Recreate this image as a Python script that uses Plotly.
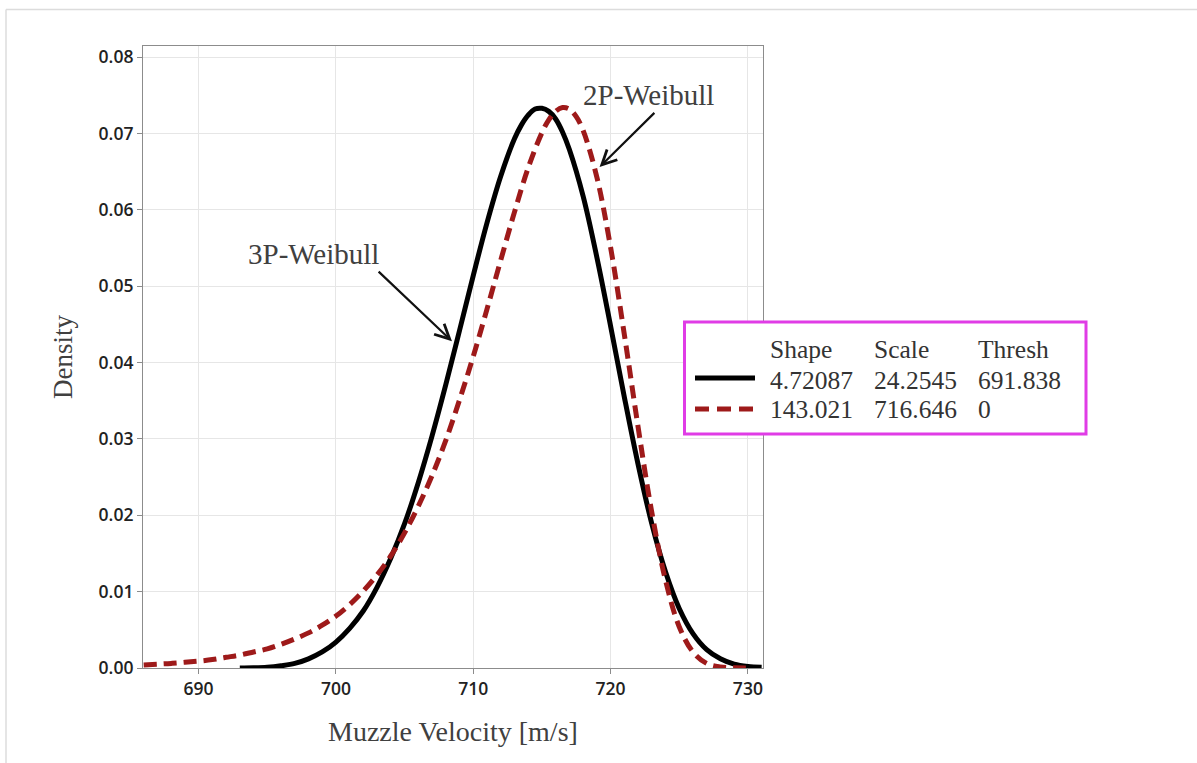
import plotly.graph_objects as go

# ---- data ----
x_3p = [693, 694, 695, 696, 697, 698, 699, 700, 701, 702, 703, 704, 705, 706, 707, 708,
        709, 710, 711, 712, 713, 713.5, 714, 714.5, 715, 715.5, 716, 716.5, 717, 718,
        719, 720, 721, 722, 723, 724, 725, 726, 727, 728, 729, 730, 731]
d_3p = [0.0000, 0.00002, 0.0001, 0.0003, 0.0006, 0.0012, 0.0021, 0.0034, 0.0052, 0.0075,
        0.0106, 0.0144, 0.0189, 0.0243, 0.0304, 0.0371, 0.0442, 0.0514, 0.0583, 0.0644,
        0.0693, 0.0711, 0.0724, 0.0732, 0.0733, 0.0729, 0.0719, 0.0702, 0.0679, 0.0618,
        0.0538, 0.0448, 0.0355, 0.0267, 0.0189, 0.0126, 0.0078, 0.0045, 0.0024, 0.0012,
        0.0005, 0.0002, 0.0001]

x_2p = [686, 687, 688, 689, 690, 691, 692, 693, 694, 695, 696, 697, 698, 699, 700,
        701, 702, 703, 704, 705, 706, 707, 708, 709, 710, 711, 712, 713, 714, 715, 715.5,
        716, 716.5, 717, 717.5, 718, 719, 720, 721, 722, 723, 724, 725, 726, 727, 728, 729, 730]
d_2p = [0.0004, 0.0005, 0.0006, 0.00075, 0.0009, 0.0011, 0.0014, 0.0017, 0.0021, 0.0025,
        0.0031, 0.0038, 0.0046, 0.0056, 0.0068, 0.0083, 0.0101, 0.0122, 0.0147, 0.0177,
        0.0212, 0.0252, 0.0298, 0.0351, 0.0408, 0.0470, 0.0534, 0.0597, 0.0655, 0.0701, 0.0718,
        0.0729, 0.0734, 0.0732, 0.0722, 0.0704, 0.0643, 0.0551, 0.0437, 0.0316, 0.0204, 0.0115,
        0.0054, 0.0021, 0.0006, 0.00014, 0.00002, 0.0000]

legend_header = ["Shape", "Scale", "Thresh"]
legend_rows = [["4.72087", "24.2545", "691.838"],
               ["143.021", "716.646", "0"]]

x_title = "Muzzle Velocity [m/s]"
y_title = "Density"

# ---- layout geometry (pixels) ----
W, H = 1197, 763
L, R, T, B = 143, 763, 46, 668
PW, PH = R - L, B - T


def px(xp):
    return (xp - L) / PW


def py(yp):
    return (B - yp) / PH


SERIF = "Liberation Serif, Times New Roman, serif"
TEXT_COL = "#404040"
RED = "#9e1a1a"

fig = go.Figure()
fig.add_trace(go.Scatter(x=x_3p, y=d_3p, mode="lines",
                         line=dict(color="#000000", width=5, shape="spline", smoothing=1.0),
                         hoverinfo="skip", showlegend=False))
fig.add_trace(go.Scatter(x=x_2p, y=d_2p, mode="lines",
                         line=dict(color=RED, width=5, dash="13px,7px", shape="spline", smoothing=1.0),
                         hoverinfo="skip", showlegend=False))

axis_common = dict(showgrid=True, gridcolor="#e6e6e6", gridwidth=1,
                   showline=True, linecolor="#8c8c8c", linewidth=1.2, mirror=True,
                   ticks="outside", ticklen=5, tickcolor="#8c8c8c",
                   zeroline=False,
                   tickfont=dict(family="Open Sans, sans-serif", size=17.5, color="#222222", weight=600))

fig.update_xaxes(range=[685.95, 731.1], dtick=10, tick0=690, **axis_common)
fig.update_yaxes(range=[0, 0.08146], dtick=0.01, tickformat=".2f", **axis_common)

shapes = []
# outer light frame
shapes.append(dict(type="line", xref="paper", yref="paper", x0=px(6), x1=px(1200), y0=py(9.5), y1=py(9.5),
                   line=dict(color="#dcdcdc", width=1.5)))
shapes.append(dict(type="line", xref="paper", yref="paper", x0=px(6), x1=px(6), y0=py(9.5), y1=py(770),
                   line=dict(color="#dcdcdc", width=1.5)))
# legend box
shapes.append(dict(type="rect", xref="paper", yref="paper", layer="above",
                   x0=px(684.5), x1=px(1086), y0=py(322), y1=py(434),
                   fillcolor="white", line=dict(color="#e03ce6", width=3)))
shapes.append(dict(type="line", xref="paper", yref="paper", layer="above",
                   x0=px(695), x1=px(755), y0=py(378), y1=py(378),
                   line=dict(color="#000000", width=5)))
shapes.append(dict(type="line", xref="paper", yref="paper", layer="above",
                   x0=px(695), x1=px(755), y0=py(409), y1=py(409),
                   line=dict(color=RED, width=5, dash="14px,8px")))

annotations = []
col_x = [768, 872, 976]
row_y = [349, 380, 410]
LEG_FONT = dict(family=SERIF, size=25.5, color="#333333")
for j, h in enumerate(legend_header):
    annotations.append(dict(xref="paper", yref="paper", x=px(col_x[j]), y=py(row_y[0]),
                            text=h, showarrow=False, xanchor="left", yanchor="middle", font=LEG_FONT))
for i, row in enumerate(legend_rows):
    for j, v in enumerate(row):
        annotations.append(dict(xref="paper", yref="paper", x=px(col_x[j]), y=py(row_y[i + 1]),
                                text=v, showarrow=False, xanchor="left", yanchor="middle", font=LEG_FONT))

# axis titles
annotations.append(dict(xref="paper", yref="paper", x=px(453), y=py(731), text=x_title,
                        showarrow=False, xanchor="center", yanchor="middle",
                        font=dict(family=SERIF, size=28, color=TEXT_COL)))
annotations.append(dict(xref="paper", yref="paper", x=px(63), y=py(357), text=y_title, textangle=-90,
                        showarrow=False, xanchor="center", yanchor="middle",
                        font=dict(family=SERIF, size=27, color=TEXT_COL)))

# curve labels with arrows
LBL_FONT = dict(family=SERIF, size=29, color=TEXT_COL)
annotations.append(dict(x=708.45, y=0.0428, ax=703.0, ay=0.0521, xref="x", yref="y", axref="x", ayref="y",
                        text="", showarrow=True, arrowhead=5, arrowsize=1.3, arrowwidth=2.2, arrowcolor="#111111"))
annotations.append(dict(xref="paper", yref="paper", x=px(313), y=py(254), text="3P-Weibull",
                        showarrow=False, xanchor="center", yanchor="middle", font=LBL_FONT))
annotations.append(dict(x=719.2, y=0.0656, ax=723.3, ay=0.0729, xref="x", yref="y", axref="x", ayref="y",
                        text="", showarrow=True, arrowhead=5, arrowsize=1.3, arrowwidth=2.2, arrowcolor="#111111"))
annotations.append(dict(xref="paper", yref="paper", x=px(648), y=py(95), text="2P-Weibull",
                        showarrow=False, xanchor="center", yanchor="middle", font=LBL_FONT))

fig.update_layout(width=W, height=H, autosize=False,
                  margin=dict(l=L, r=W - R, t=T, b=H - B),
                  paper_bgcolor="white", plot_bgcolor="white",
                  shapes=shapes, annotations=annotations, showlegend=False)

fig.write_html("out.html", config={"displayModeBar": False})
